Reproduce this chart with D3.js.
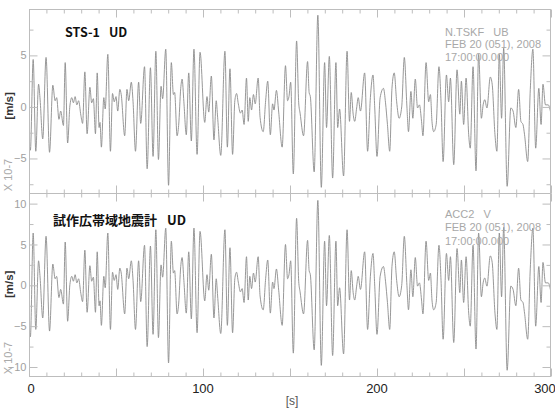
<!DOCTYPE html>
<html>
<head>
<meta charset="utf-8">
<script src="https://cdn.jsdelivr.net/npm/d3@7/dist/d3.min.js"></script>
<style>
body { margin: 0; background: #fff; }
svg { display: block; }
.frame { fill: none; stroke: #bdbdbd; stroke-width: 1; }
.tick line { stroke: #bdbdbd; }
.domain { display: none; }
.trace { fill: none; stroke: #8c8c8c; stroke-width: 0.9; }
.yticklabel { fill: #a0a0a0; font-family: "Liberation Sans", sans-serif; font-size: 11px; }
.xticklabel { fill: #222; font-family: "Liberation Sans", sans-serif; font-size: 13px; }
.title { fill: #111; font-family: "Noto Sans CJK JP", sans-serif; font-weight: bold; }
.info { fill: #a8a8a8; font-family: "Liberation Sans", sans-serif; font-size: 11px; white-space: pre; }
</style>
</head>
<body>
<script>
// seconds after 17:00:00, extrema
var times = [
    0.0, 0.8, 2.4, 3.9, 5.5, 6.3, 7.9, 9.8, 11.8, 13.7,
    15.0, 15.9, 17.2, 18.2, 19.8, 20.8, 22.2, 23.5, 24.6, 25.5,
    26.5, 27.5, 28.5, 29.8, 30.8, 32.1, 33.4, 35.0, 36.0, 37.0,
    38.2, 39.2, 40.3, 40.8, 41.6, 43.0, 43.8, 45.3, 46.8, 48.0,
    49.0, 50.0, 51.0, 52.2, 53.0, 55.0, 56.3, 57.3, 58.8, 59.8,
    61.2, 63.0, 64.2, 66.4, 67.9, 69.8, 71.3, 72.9, 74.4, 75.9,
    76.8, 78.6, 80.2, 81.8, 83.0, 83.7, 85.1, 86.0, 87.2, 88.0,
    89.0, 90.4, 91.8, 93.3, 94.8, 96.6, 98.3, 101.0, 102.3, 103.3,
    104.8, 106.3, 107.6, 108.4, 110.2, 112.6, 114.0, 115.5, 117.0, 118.3,
    119.3, 120.3, 121.5, 122.5, 123.6, 125.0, 126.0, 126.9, 127.9, 129.0,
    130.0, 131.7, 132.8, 134.6, 136.0, 137.2, 138.7, 140.0, 140.8, 142.2,
    143.5, 145.5, 147.4, 148.6, 149.4, 150.4, 151.9, 153.8, 155.0, 155.8,
    157.8, 160.1, 161.0, 161.7, 163.9, 166.0, 168.0, 169.9, 171.0, 172.6,
    174.5, 176.4, 177.4, 178.5, 180.8, 182.8, 184.2, 185.2, 186.3, 187.2,
    188.3, 189.2, 190.5, 192.9, 194.6, 196.2, 197.7, 198.7, 200.0, 201.8,
    203.7, 204.9, 206.0, 207.3, 208.6, 209.9, 211.3, 212.7, 214.2, 215.7,
    217.2, 218.1, 219.5, 220.6, 222.0, 223.3, 224.4, 225.6, 226.4, 228.2,
    229.7, 230.7, 231.6, 232.6, 234.0, 235.6, 236.8, 238.0, 239.9, 241.2,
    242.2, 244.1, 246.0, 247.6, 248.5, 249.8, 251.2, 252.7, 253.6, 255.2,
    256.9, 258.4, 260.0, 261.0, 261.9, 263.2, 265.1, 266.2, 267.8, 268.9,
    270.3, 271.6, 272.8, 274.8, 276.9, 278.2, 279.8, 281.4, 282.7, 283.9,
    284.8, 286.6, 288.1, 289.6, 291.2, 293.0, 294.3, 295.4, 296.8, 298.4,
    300.0
];

// STS-1 UD, x 1e-7 m/s
var stsVel = [
    -3.5, -4.2, 4.6, -4.3, 2.2, 0.9, -3.1, 4.8, -4.4, 2.1,
    0.6, 0.9, -1.2, -0.4, -1.8, 4.3, -3.5, 0.1, 0.9, 0.4,
    1.0, 0.2, 0.6, -0.8, -1.6, 3.4, -2.6, 1.9, 0.4, 0.8,
    -2.6, 3.3, -2.0, -1.5, -3.9, 0.9, -0.2, 5.1, -4.3, 1.3,
    0.5, 1.0, -0.4, 1.7, 1.2, -2.8, 1.7, 0.6, 2.4, 0.5,
    -4.3, 2.4, -1.6, 3.9, -6.0, 3.8, -4.8, 5.4, -5.1, 2.0,
    0.8, 5.6, -7.6, 4.3, 1.2, 1.4, -2.8, -1.8, 1.8, 2.7,
    0.5, -2.7, 3.3, -3.3, 5.6, -4.6, 5.3, -1.5, 1.0, -0.5,
    3.0, -3.2, 0.6, -1.0, -4.7, 5.4, -3.9, 3.7, -4.6, 0.6,
    1.3, 0.3, -0.6, -0.3, -1.7, 2.8, -1.4, 0.9, -0.3, 1.2,
    0.3, 2.8, -1.0, -2.4, 0.6, 2.5, -2.7, 0.3, -0.3, 1.6,
    -0.5, -3.9, 4.0, 0.6, 1.0, 2.4, -6.5, 6.4, 0.4, -0.6,
    -2.8, 4.4, 1.4, 1.0, -6.3, 8.9, -7.8, 4.3, -2.0, 4.9,
    -6.9, 4.3, -2.0, -0.2, -6.7, 5.4, -1.4, 1.4, -0.7, -1.4,
    -0.1, 0.9, -0.4, 3.3, -4.3, 0.9, 3.1, -0.1, -4.8, 0.9,
    1.8, 0.4, -1.7, -4.3, 1.8, 3.3, 0.5, -1.1, 0.0, 4.8,
    0.0, -2.4, 1.5, -1.1, 2.7, -0.1, 0.2, -1.4, -2.8, 4.3,
    0.5, 1.2, -1.4, -2.4, -1.7, 3.9, 0.5, -5.3, 3.1, 0.5,
    2.8, -5.6, 3.6, -0.7, 2.5, -1.7, 2.8, -2.7, -4.0, 3.9,
    -6.2, 5.1, -1.1, 0.2, 0.7, -0.1, 2.9, 2.2, -2.7, -4.3,
    5.1, -1.1, 5.7, -7.7, -0.1, -0.4, -2.0, 1.7, -1.4, -1.7,
    -2.7, -5.3, 1.7, 5.6, -4.0, 1.8, -1.7, 2.2, 0.2, 0.2,
    -0.7
];

// trial broadband seismometer (ACC2 V), x 1e-7 m/s
var accVel = [
    -4.6, -6.3, 6.4, -5.4, 3.0, 1.2, -4.0, 6.0, -5.6, 2.6,
    0.8, 1.1, -1.5, -0.5, -2.3, 5.3, -4.4, 0.1, 1.1, 0.5,
    1.3, 0.3, 0.8, -1.0, -2.0, 4.3, -3.3, 2.4, 0.5, 1.0,
    -3.3, 4.1, -2.5, -1.9, -4.9, 1.1, -0.3, 6.4, -5.4, 1.6,
    0.6, 1.3, -0.5, 2.1, 1.5, -3.5, 2.1, 0.8, 3.0, 0.6,
    -5.4, 3.0, -2.0, 4.9, -7.5, 4.8, -6.0, 6.8, -6.4, 2.5,
    1.0, 7.0, -9.5, 5.4, 1.5, 1.8, -3.5, -2.3, 2.3, 3.4,
    0.6, -3.4, 4.1, -4.1, 7.0, -5.8, 6.6, -1.9, 1.3, -0.6,
    3.8, -4.0, 0.8, -1.3, -5.9, 6.8, -4.9, 4.6, -5.8, 0.8,
    1.6, 0.4, -0.8, -0.4, -2.1, 3.5, -1.8, 1.1, -0.4, 1.5,
    0.4, 3.5, -1.3, -3.0, 0.8, 3.1, -3.4, 0.4, -0.4, 2.0,
    -0.6, -4.9, 5.0, 0.8, 1.3, 3.0, -8.3, 8.2, 0.5, -0.8,
    -3.5, 5.5, 1.8, 1.3, -7.9, 10.4, -9.8, 5.4, -2.5, 6.1,
    -8.6, 5.4, -2.5, -0.3, -8.4, 6.8, -1.8, 1.8, -0.9, -1.8,
    -0.1, 1.1, -0.5, 4.1, -5.4, 1.1, 3.9, -0.1, -6.0, 1.1,
    2.3, 0.5, -2.1, -5.4, 2.3, 4.1, 0.6, -1.4, 0.0, 6.0,
    0.0, -3.0, 1.9, -1.4, 3.4, -0.1, 0.3, -1.8, -3.5, 5.4,
    0.6, 1.5, -1.8, -3.0, -2.1, 4.9, 0.6, -6.6, 3.9, 0.6,
    3.5, -7.0, 4.5, -0.9, 3.1, -2.1, 3.5, -3.4, -5.0, 4.9,
    -7.8, 6.4, -1.4, 0.3, 0.9, -0.1, 3.6, 2.8, -3.4, -5.4,
    6.4, -1.4, 7.1, -10.4, -0.1, -0.5, -2.5, 2.1, -1.8, -2.1,
    -3.4, -6.6, 2.1, 7.0, -5.0, 2.3, -2.1, 2.8, 0.3, 0.3,
    -0.9
];

var timeTicks = [0, 100, 200, 300];
var stsTicks = [-5, 0, 5];
var accTicks = [-10, -5, 0, 5, 10];
var minorTicks = [-7.5, -2.5, 2.5, 7.5];

var panels = [
    { name: 'STS-1', comp: 'UD', station: 'N.TSKF   UB', values: stsVel, ticks: stsTicks,
      domain: [-8.35, 9.5], top: 9, bottom: 193, titleSize: 12.5, titleY: 37,
      infoY: [35.5, 48.3, 61.1] },
    { name: '試作広帯域地震計', comp: 'UD', station: 'ACC2   V', values: accVel, ticks: accTicks,
      domain: [-11.1, 11.3], top: 193, bottom: 376, titleSize: 13, titleY: 224.5,
      infoY: [217.5, 231, 244.5] }
];

var svg = d3.select('body').append('svg')
    .attr('width', 555)
    .attr('height', 412);

var x = d3.scaleLinear().domain([0, 300]).range([29, 551]);
var left = x(0) + 0.5, right = x(300) - 0.5;

var majorX = d3.range(0, 301, 50),
    minorX = d3.range(0, 301, 10).filter(function (d) { return d % 50 != 0; });

panels.forEach(function (p, i) {
    var y = d3.scaleLinear().domain(p.domain).range([p.bottom, p.top]);
    var g = svg.append('g');

    g.append('clipPath').attr('id', 'clip' + i)
        .append('rect')
        .attr('x', left).attr('y', p.top)
        .attr('width', right - left).attr('height', p.bottom - p.top);

    var line = d3.line()
        .x(function (d, k) { return x(times[k]); })
        .y(function (d) { return y(d); })
        .curve(d3.curveMonotoneX);

    g.append('path')
        .datum(p.values)
        .attr('class', 'trace')
        .attr('clip-path', 'url(#clip' + i + ')')
        .attr('d', line);

    g.append('rect')
        .attr('class', 'frame')
        .attr('x', left).attr('y', p.top + 0.5)
        .attr('width', right - left).attr('height', p.bottom - p.top);

    // y axes, ticks pointing inward
    var yl = g.append('g').attr('transform', 'translate(' + left + ',0)');
    yl.call(d3.axisLeft(y).tickValues(p.ticks).tickSize(-8).tickPadding(3).tickFormat(d3.format('d')));
    yl.selectAll('text').attr('class', 'yticklabel');
    g.append('g').attr('transform', 'translate(' + left + ',0)')
        .call(d3.axisLeft(y).tickValues(minorTicks).tickSize(-4).tickFormat(''));
    g.append('g').attr('transform', 'translate(' + right + ',0)')
        .call(d3.axisRight(y).tickValues(p.ticks).tickSize(-8).tickFormat(''));
    g.append('g').attr('transform', 'translate(' + right + ',0)')
        .call(d3.axisRight(y).tickValues(minorTicks).tickSize(-4).tickFormat(''));

    // x axes
    [['axisTop', p.top + 0.5], ['axisBottom', p.bottom + 0.5]].forEach(function (a) {
        g.append('g').attr('transform', 'translate(0,' + a[1] + ')')
            .call(d3[a[0]](x).tickValues(majorX).tickSize(-8).tickFormat(''));
        g.append('g').attr('transform', 'translate(0,' + a[1] + ')')
            .call(d3[a[0]](x).tickValues(minorX).tickSize(-4).tickFormat(''));
    });

    // unit labels on the left
    var mid = y(0);
    g.append('text')
        .attr('transform', 'translate(9,' + (mid - 1) + ') rotate(-90)')
        .attr('text-anchor', 'middle').attr('dy', '0.35em')
        .style('font-family', '"Liberation Sans", sans-serif')
        .style('font-size', '11.5px').style('font-weight', 'bold').style('fill', '#333')
        .text('[m/s]');
    g.append('text')
        .attr('transform', 'translate(8,' + (p.bottom - 18) + ') rotate(-90)')
        .attr('text-anchor', 'middle').attr('dy', '0.35em')
        .style('font-family', '"Liberation Sans", sans-serif')
        .style('font-size', '11px').style('fill', '#aaa')
        .text('X 10-7');

    // instrument name
    g.append('text')
        .attr('class', 'title')
        .attr('x', i == 0 ? 65 : 53).attr('y', p.titleY)
        .style('font-size', p.titleSize + 'px')
        .text(p.name);
    g.append('text')
        .attr('class', 'title')
        .attr('x', i == 0 ? 109 : 167).attr('y', p.titleY)
        .style('font-size', p.titleSize + 'px')
        .text(p.comp);

    // station / date block
    [p.station, 'FEB 20 (051), 2008', '17:00:00.000'].forEach(function (s, k) {
        g.append('text')
            .attr('class', 'info')
            .attr('x', 445).attr('y', p.infoY[k])
            .text(s);
    });
});

// time labels under the lower panel
svg.append('g').selectAll('text')
    .data(timeTicks)
    .enter().append('text')
    .attr('class', 'xticklabel')
    .attr('x', function (d) { return Math.min(x(d) + (d == 0 ? 2 : 0), 545); })
    .attr('y', 393)
    .attr('text-anchor', 'middle')
    .text(function (d) { return d; });

svg.append('text')
    .attr('x', 292).attr('y', 405)
    .attr('text-anchor', 'middle')
    .style('font-family', '"Liberation Sans", sans-serif')
    .style('font-size', '12px').style('fill', '#555')
    .text('[s]');
</script>
</body>
</html>
